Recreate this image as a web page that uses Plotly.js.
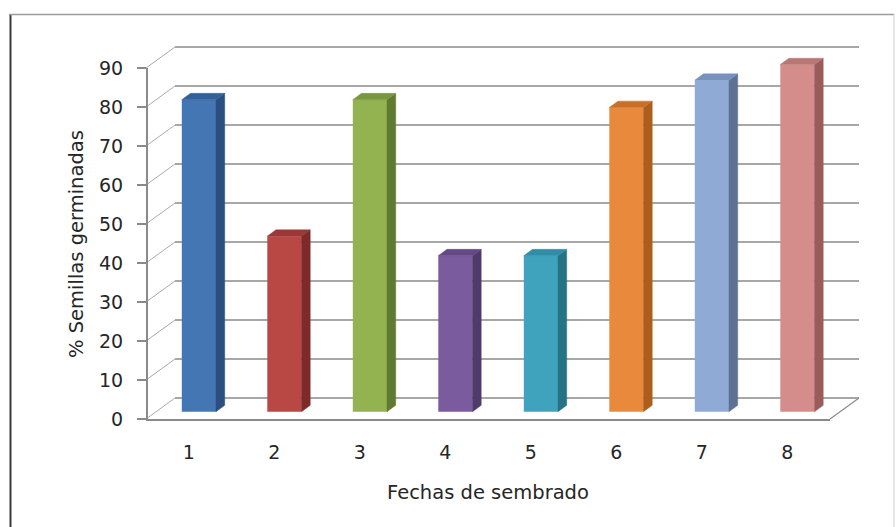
<!DOCTYPE html>
<html>
<head>
<meta charset="utf-8">
<script src="https://cdn.plot.ly/plotly-3.0.1.min.js"></script>
<style>
  html, body { margin: 0; padding: 0; background: #ffffff; }
  #chart { width: 896px; height: 527px; }
</style>
</head>
<body>
<div id="chart"></div>
<script>
// Sowing dates and germinated seed percentages
const categories = ['1', '2', '3', '4', '5', '6', '7', '8'];
const germinated = [80, 45, 80, 40, 40, 78, 85, 89];
const yTicks = [0, 10, 20, 30, 40, 50, 60, 70, 80, 90];

// Bar colours: front face, right side, top face
const frontColors = ['#4576b4', '#b94845', '#93b351', '#7a5c9e', '#40a3bd', '#e8893b', '#90aad6', '#d48d8b'];
const sideColors  = ['#2b4f80', '#7e2a28', '#617a32', '#4f3a6c', '#267385', '#ad5d1c', '#5e7195', '#9a5c5a'];
const topColors   = ['#34609a', '#9a3937', '#78973f', '#644985', '#318da5', '#c7702a', '#7892bd', '#b87674'];

// Layout geometry of the pseudo-3D box (pixels)
const W = 896, H = 527;
const FRONT_X = 146;      // front value axis
const FLOOR_Y = 419;      // front edge of the floor
const PX_PER_CAT = 85.5;  // width of one category slot
const PX_PER_UNIT = 3.9;  // height of one percentage point
const DEPTH_PX = [29, 21];

const nCat = categories.length;
const yMax = yTicks[yTicks.length - 1];
const DX = DEPTH_PX[0] / PX_PER_CAT;     // depth offset in category units
const DY = DEPTH_PX[1] / PX_PER_UNIT;    // depth offset in value units
const BAR_W = 0.4;
const BAR_FRONT = 0.35, BAR_BACK = 0.65; // bar depth as fraction of box depth

const slot = categories.map((c, i) => i + 1);
const xLeft = 0.5, xRight = nCat + 0.5;

const GRID = '#8a8a8a';
const DIAG = '#aaaaaa';
const TEXT = '#262626';
const FONT = 'DejaVu Sans';
const TICK_SIZE = 19;
const TITLE_SIZE = 19.5;

// Walls: diagonal ticks on the side wall and gridlines on the back wall
const shapes = [];
yTicks.forEach(v => {
  shapes.push({ type: 'line', layer: 'below', xref: 'x', yref: 'y',
    x0: xLeft, y0: v, x1: xLeft + DX, y1: v + DY, line: { color: DIAG, width: 1 } });
  shapes.push({ type: 'line', layer: 'below', xref: 'x', yref: 'y',
    x0: xLeft + DX, y0: v + DY, x1: xRight + DX, y1: v + DY, line: { color: GRID, width: 1.5 } });
});
// right edge of the floor
shapes.push({ type: 'line', layer: 'below', xref: 'x', yref: 'y',
  x0: xRight, y0: 0, x1: xRight + DX, y1: DY, line: { color: GRID, width: 1.2 } });

// Outer frame
shapes.push({ type: 'line', xref: 'paper', yref: 'paper',
  x0: 10.5 / W, x1: 10.5 / W, y0: 1 - 14 / H, y1: 0, line: { color: '#3a3a3a', width: 2 } });
shapes.push({ type: 'line', xref: 'paper', yref: 'paper',
  x0: 10 / W, x1: 894 / W, y0: 1 - 14.5 / H, y1: 1 - 14.5 / H, line: { color: '#9c9c9c', width: 1.5 } });
shapes.push({ type: 'line', xref: 'paper', yref: 'paper',
  x0: 894 / W, x1: 894 / W, y0: 1 - 14 / H, y1: 0, line: { color: '#cfcfcf', width: 1 } });

// Front faces of the bars
const fdx = BAR_FRONT * DX, fdy = BAR_FRONT * DY;
const ddx = (BAR_BACK - BAR_FRONT) * DX, ddy = (BAR_BACK - BAR_FRONT) * DY;

const traces = [{
  type: 'bar',
  x: slot.map(p => p + fdx),
  y: germinated,
  base: fdy,
  width: BAR_W,
  marker: { color: frontColors, line: { width: 0 } },
  hoverinfo: 'skip',
  showlegend: false
}];

// Side and top faces of each bar
germinated.forEach((v, i) => {
  const xl = slot[i] - BAR_W / 2 + fdx;
  const xr = slot[i] + BAR_W / 2 + fdx;
  const top = v + fdy;
  traces.push({
    type: 'scatter', mode: 'lines', fill: 'toself',
    x: [xr, xr + ddx, xr + ddx, xr, xr],
    y: [fdy, fdy + ddy, top + ddy, top, fdy],
    fillcolor: sideColors[i], line: { color: sideColors[i], width: 0.5 },
    hoverinfo: 'skip', showlegend: false
  });
  traces.push({
    type: 'scatter', mode: 'lines', fill: 'toself',
    x: [xl, xr, xr + ddx, xl + ddx, xl],
    y: [top, top, top + ddy, top + ddy, top],
    fillcolor: topColors[i], line: { color: topColors[i], width: 0.5 },
    hoverinfo: 'skip', showlegend: false
  });
});

// Carrier for the front axes (labels and axis lines)
traces.push({ type: 'scatter', mode: 'markers', x: [xLeft], y: [0],
  marker: { opacity: 0 }, xaxis: 'x2', yaxis: 'y2', hoverinfo: 'skip', showlegend: false });

const layout = {
  width: W, height: H, autosize: false,
  margin: { l: 0, r: 0, t: 0, b: 0, pad: 0 },
  paper_bgcolor: '#ffffff', plot_bgcolor: 'rgba(0,0,0,0)',
  showlegend: false,
  font: { family: FONT, size: TICK_SIZE, color: TEXT },
  xaxis: {
    range: [xLeft - FRONT_X / PX_PER_CAT, xLeft + (W - FRONT_X) / PX_PER_CAT],
    visible: false, fixedrange: true
  },
  yaxis: {
    range: [-(H - FLOOR_Y) / PX_PER_UNIT, FLOOR_Y / PX_PER_UNIT],
    visible: false, fixedrange: true
  },
  xaxis2: {
    domain: [FRONT_X / W, (FRONT_X + nCat * PX_PER_CAT) / W],
    range: [xLeft, xRight],
    anchor: 'free', position: (H - FLOOR_Y) / H,
    showgrid: false, zeroline: false,
    showline: true, linecolor: GRID, linewidth: 1.5,
    ticks: '', tickvals: slot, ticktext: categories,
    ticklabelstandoff: 16,
    tickfont: { family: FONT, size: TICK_SIZE, color: TEXT },
    fixedrange: true
  },
  yaxis2: {
    domain: [(H - FLOOR_Y) / H, (H - FLOOR_Y + yMax * PX_PER_UNIT) / H],
    range: [0, yMax],
    anchor: 'free', position: FRONT_X / W,
    showgrid: false, zeroline: false,
    showline: true, linecolor: GRID, linewidth: 1.5,
    ticks: 'outside', ticklen: 9, tickcolor: GRID, tickwidth: 1.5,
    tickvals: yTicks,
    ticklabelstandoff: 10,
    tickfont: { family: FONT, size: TICK_SIZE, color: TEXT },
    fixedrange: true
  },
  shapes: shapes,
  annotations: [
    { text: '% Semillas germinadas', xref: 'paper', yref: 'paper',
      x: 76 / W, y: 1 - 244 / H, xanchor: 'center', yanchor: 'middle',
      textangle: -90, showarrow: false, font: { family: FONT, size: TITLE_SIZE, color: TEXT } },
    { text: 'Fechas de sembrado', xref: 'paper', yref: 'paper',
      x: 488 / W, y: 1 - 492 / H, xanchor: 'center', yanchor: 'middle',
      showarrow: false, font: { family: FONT, size: TITLE_SIZE, color: TEXT } }
  ]
};

Plotly.newPlot('chart', traces, layout, { displayModeBar: false, staticPlot: true });
</script>
</body>
</html>
